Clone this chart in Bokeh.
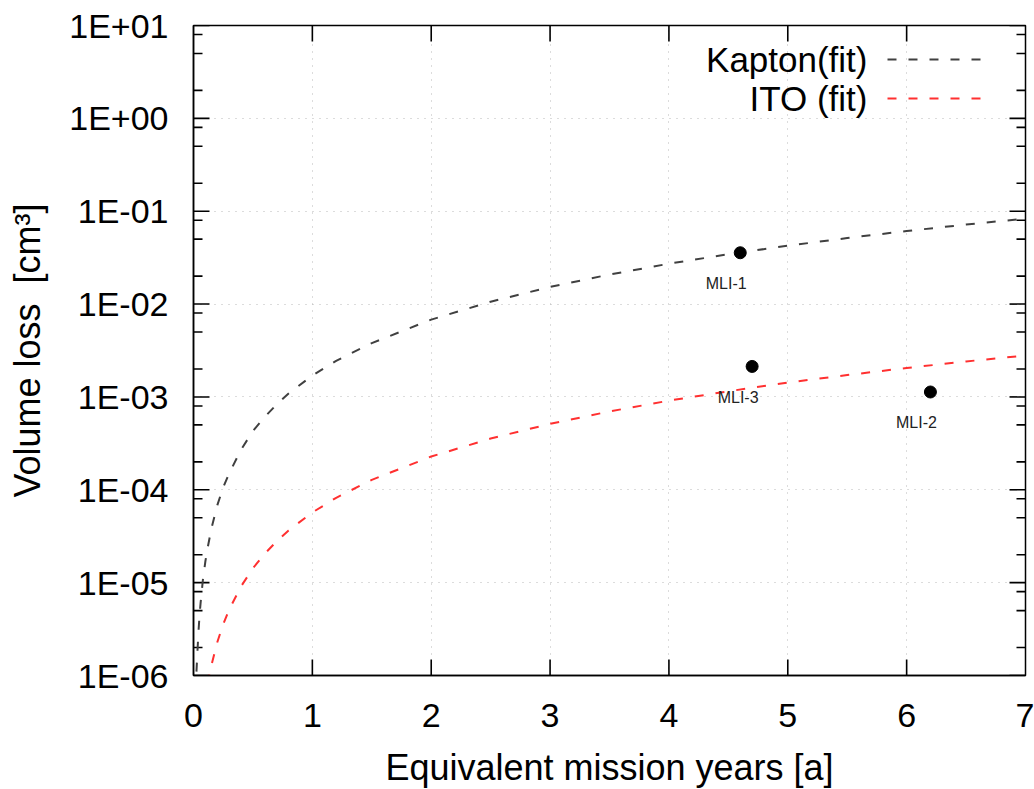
from bokeh.plotting import figure
from bokeh.models import (ColumnDataSource, FixedTicker, CustomJSTickFormatter,
                          Label, Arrow)
from bokeh.embed import file_html
from bokeh.resources import INLINE
from bokeh.core.properties import value

# ---------------- data ----------------
kapton_x = [0.025, 0.03, 0.04, 0.05, 0.06, 0.08, 0.1, 0.12, 0.15, 0.2, 0.25, 0.3,
            0.4, 0.5, 0.6, 0.7, 0.8, 1.0, 1.2, 1.5, 2.0, 2.5, 3.0, 3.5, 4.0,
            4.5, 5.0, 5.5, 6.0, 6.5, 7.0]
kapton_y = [1.1e-6, 1.5e-6, 2.7e-6, 4.3e-6, 6.1e-6, 1.1e-5, 1.7e-5, 2.4e-5,
            3.8e-5, 6.8e-5, 1.06e-4, 1.5e-4, 2.7e-4, 4.3e-4, 6.1e-4, 8.3e-4,
            1.09e-3, 1.7e-3, 2.45e-3, 3.8e-3, 6.8e-3, 1.06e-2, 1.53e-2,
            2.08e-2, 2.72e-2, 3.44e-2, 4.25e-2, 5.14e-2, 6.12e-2, 7.18e-2, 8.33e-2]

ito_x = [0.12, 0.15, 0.2, 0.25, 0.3, 0.4, 0.5, 0.6, 0.7, 0.8, 1.0, 1.2, 1.5,
         2.0, 2.5, 3.0, 3.5, 4.0, 4.5, 5.0, 5.5, 6.0, 6.5, 7.0]
ito_y = [8.2e-7, 1.28e-6, 2.28e-6, 3.56e-6, 5.13e-6, 9.1e-6, 1.43e-5, 2.05e-5,
         2.79e-5, 3.65e-5, 5.7e-5, 8.2e-5, 1.28e-4, 2.28e-4, 3.56e-4, 5.13e-4,
         6.98e-4, 9.12e-4, 1.15e-3, 1.43e-3, 1.72e-3, 2.05e-3, 2.41e-3, 2.79e-3]

sample_names = ["MLI-1", "MLI-2", "MLI-3"]
sample_x = [4.6, 6.2, 4.7]
sample_y = [0.0357, 0.00113, 0.00213]

x_ticks = [0, 1, 2, 3, 4, 5, 6, 7]
x_tick_labels = ["0", "1", "2", "3", "4", "5", "6", "7"]
y_ticks = [1e-6, 1e-5, 1e-4, 1e-3, 1e-2, 1e-1, 1e0, 1e1]
y_tick_labels = ["1E-06", "1E-05", "1E-04", "1E-03", "1E-02", "1E-01", "1E+00", "1E+01"]
y_minor_mult = [2, 5, 8]

legend_labels = ["Kapton(fit)", "ITO (fit)"]
# ---------------------------------------------------------------

FONT = "Liberation Sans"
KAPTON_COLOR = "#404040"
ITO_COLOR = "#ff3030"
DASH = "9 12"
X0, X1 = 0, 7
Y0, Y1 = 1e-6, 1e1
FW, FH = 832, 650           # frame size in px
MAJ, MIN, TW = 16, 9, 1.6   # tick lengths and tick thickness in px

y_minor = [d * m for d in y_ticks[:-1] for m in y_minor_mult]

p = figure(frame_width=FW, frame_height=FH,
           x_range=(X0, X1), y_range=(Y0, Y1), y_axis_type="log",
           output_backend="svg", toolbar_location=None,
           min_border_left=193, min_border_top=25, min_border_right=9,
           min_border_bottom=114)
p.background_fill_color = "white"
p.border_fill_color = "white"
p.outline_line_color = "black"
p.outline_line_width = 1.5

xticker = FixedTicker(ticks=x_ticks, minor_ticks=[])
yticker = FixedTicker(ticks=y_ticks, minor_ticks=[])

x_fmt = CustomJSTickFormatter(args=dict(vals=x_ticks, labs=x_tick_labels), code="""
    let best = 0, bd = 1e9;
    for (let i = 0; i < vals.length; i++) { const d = Math.abs(vals[i] - tick); if (d < bd) { bd = d; best = i; } }
    return labs[best];
""")
y_fmt = CustomJSTickFormatter(args=dict(vals=y_ticks, labs=y_tick_labels), code="""
    let best = 0, bd = 1e9;
    for (let i = 0; i < vals.length; i++) { const d = Math.abs(Math.log10(vals[i]) - Math.log10(tick)); if (d < bd) { bd = d; best = i; } }
    return labs[best];
""")

def style_axis(ax):
    ax.axis_line_color = "black"
    ax.axis_line_width = 1.5
    ax.major_tick_in = 0
    ax.major_tick_out = 0
    ax.minor_tick_in = 0
    ax.minor_tick_out = 0
    ax.major_label_text_font = FONT
    ax.major_label_text_font_size = "34px"
    ax.major_label_text_color = "black"
    ax.axis_label_text_font = FONT
    ax.axis_label_text_font_size = "36px"
    ax.axis_label_text_font_style = "normal"
    ax.axis_label_text_color = "black"

xa = p.xaxis[0]
xa.ticker = xticker
xa.formatter = x_fmt
xa.axis_label = "Equivalent mission years [a]"
style_axis(xa)
xa.major_label_standoff = 28
xa.axis_label_standoff = 17

ya = p.yaxis[0]
ya.ticker = yticker
ya.formatter = y_fmt
ya.axis_label = "Volume loss\u00a0 [cm³]"
style_axis(ya)
ya.major_label_standoff = 25
ya.axis_label_standoff = 18

for g in (p.xgrid[0], p.ygrid[0]):
    g.grid_line_color = "#b8b8b8"
    g.grid_line_dash = "1 6"
    g.grid_line_width = 1
p.xgrid[0].ticker = xticker
p.ygrid[0].ticker = yticker

# inward tick marks on all four edges (gnuplot style), drawn as thin filled bars
# at the tick values; px lengths converted to data units of each scale
decades = 7.0                       # log10(Y1 / Y0)
dx_maj = MAJ * (X1 - X0) / FW
dx_min = MIN * (X1 - X0) / FW
hw_x = 0.5 * TW * (X1 - X0) / FW    # half thickness, x direction
fy_maj = 10 ** (MAJ * decades / FH)
fy_hw = 10 ** (0.5 * TW * decades / FH)
inner_x = [t for t in x_ticks if X0 < t < X1]
n = len(inner_x)
BAR = dict(fill_color="black", line_alpha=0)
# bottom and top
p.quad(left=[t - hw_x for t in inner_x] * 2, right=[t + hw_x for t in inner_x] * 2,
       bottom=[Y0] * n + [Y1 / fy_maj] * n, top=[Y0 * fy_maj] * n + [Y1] * n, **BAR)
# left and right, major
ny = len(y_ticks)
p.quad(left=[X0] * ny + [X1 - dx_maj] * ny, right=[X0 + dx_maj] * ny + [X1] * ny,
       bottom=[v / fy_hw for v in y_ticks] * 2, top=[v * fy_hw for v in y_ticks] * 2, **BAR)
# left and right, minor
nm = len(y_minor)
p.quad(left=[X0] * nm + [X1 - dx_min] * nm, right=[X0 + dx_min] * nm + [X1] * nm,
       bottom=[v / fy_hw for v in y_minor] * 2, top=[v * fy_hw for v in y_minor] * 2, **BAR)

ksrc = ColumnDataSource(dict(x=kapton_x, y=kapton_y))
isrc = ColumnDataSource(dict(x=ito_x, y=ito_y))
ssrc = ColumnDataSource(dict(x=sample_x, y=sample_y, name=sample_names))

p.line("x", "y", source=ksrc, line_color=KAPTON_COLOR, line_width=2, line_dash=DASH)
p.line("x", "y", source=isrc, line_color=ITO_COLOR, line_width=2, line_dash=DASH)
p.scatter("x", "y", source=ssrc, size=12, color="black")
p.text("x", "y", text="name", source=ssrc, x_offset=-14, y_offset=31,
       text_font=value(FONT), text_font_size="16px", text_align="center",
       text_baseline="middle", text_color="#222222")

# legend (gnuplot style: label left, sample right)
leg_colors = [KAPTON_COLOR, ITO_COLOR]
leg_y = [616, 577]
for lab, col, yy in zip(legend_labels, leg_colors, leg_y):
    p.add_layout(Label(x=674, y=yy, x_units="screen", y_units="screen", text=lab,
                       text_font=FONT, text_font_size="35px", text_align="right",
                       text_baseline="middle", text_color="black"))
    p.add_layout(Arrow(end=None, x_start=694, y_start=yy, x_end=792, y_end=yy,
                       start_units="screen", end_units="screen",
                       line_color=col, line_width=2, line_dash=DASH))

open("out.html", "w").write(file_html(p, INLINE))
